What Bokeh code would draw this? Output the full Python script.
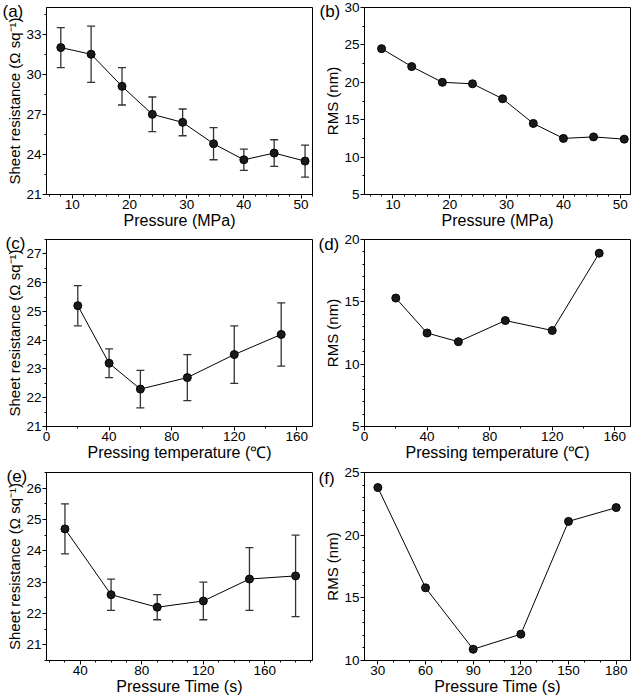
from bokeh.plotting import figure
from bokeh.models import Whisker, ColumnDataSource, Title, Range1d, TeeHead, SingleIntervalTicker
from bokeh.layouts import gridplot
from bokeh.embed import file_html
from bokeh.resources import INLINE

# (a) sheet resistance vs pressure
pressure_mpa = [8, 13.3, 18.7, 24, 29.3, 34.7, 40, 45.3, 50.7]
sheet_res_pressure = [32.0, 31.5, 29.1, 27.0, 26.4, 24.8, 23.6, 24.1, 23.5]
sheet_res_pressure_upper = [33.5, 33.6, 30.5, 28.3, 27.4, 26.0, 24.4, 25.1, 24.7]
sheet_res_pressure_lower = [30.5, 29.4, 27.7, 25.7, 25.4, 23.6, 22.8, 23.1, 22.3]
# (b) RMS vs pressure
rms_pressure = [24.5, 22.1, 20.0, 19.8, 17.8, 14.5, 12.5, 12.7, 12.4]
# (c) sheet resistance vs pressing temperature
temperature_c = [20, 40, 60, 90, 120, 150]
sheet_res_temp = [25.2, 23.2, 22.3, 22.7, 23.5, 24.2]
sheet_res_temp_upper = [25.9, 23.7, 22.95, 23.5, 24.5, 25.3]
sheet_res_temp_lower = [24.5, 22.7, 21.65, 21.9, 22.5, 23.1]
# (d) RMS vs pressing temperature
rms_temp = [15.3, 12.5, 11.8, 13.5, 12.7, 18.9]
# (e) sheet resistance vs pressure time
time_s = [30, 60, 90, 120, 150, 180]
sheet_res_time = [24.7, 22.6, 22.2, 22.4, 23.1, 23.2]
sheet_res_time_upper = [25.5, 23.1, 22.6, 23.0, 24.1, 24.5]
sheet_res_time_lower = [23.9, 22.1, 21.8, 21.8, 22.1, 21.9]
# (f) RMS vs pressure time
rms_time = [23.8, 15.8, 10.9, 12.1, 21.1, 22.2]

labels_panel = ["(a)", "(b)", "(c)", "(d)", "(e)", "(f)"]
xlabel_pressure = "Pressure (MPa)"
xlabel_temp = "Pressing temperature (\u2103)"
xlabel_time = "Pressure Time (s)"
ylabel_res = "Sheet resistance (\u03a9 sq\u207b\u00b9)"
ylabel_rms = "RMS (nm)"

FONT = "Liberation Sans"


def make_panel(x, y, upper, lower, xr, yr, xint, xminor, yint, yminor,
               xlabel, ylabel, tag, w, h, bl, br, bt, bb, lab_x, lab_bottom):
    p = figure(width=w, height=h, output_backend="svg", toolbar_location=None,
               x_range=Range1d(*xr), y_range=Range1d(*yr),
               min_border_left=bl, min_border_right=br,
               min_border_top=bt, min_border_bottom=bb)
    p.background_fill_color = "white"
    p.border_fill_color = "white"
    p.outline_line_color = "black"
    p.outline_line_width = 1
    p.xgrid.visible = False
    p.ygrid.visible = False
    p.xaxis.ticker = SingleIntervalTicker(interval=xint, num_minor_ticks=xminor)
    p.yaxis.ticker = SingleIntervalTicker(interval=yint, num_minor_ticks=yminor)
    for ax in (p.xaxis[0], p.yaxis[0]):
        ax.axis_line_color = "black"
        ax.major_tick_line_color = "black"
        ax.minor_tick_line_color = "black"
        ax.major_tick_in = 0
        ax.major_tick_out = 4
        ax.minor_tick_in = 0
        ax.minor_tick_out = 2
        ax.major_label_text_font = FONT
        ax.major_label_text_font_size = "13.5px"
        ax.major_label_text_color = "black"
        ax.axis_label_text_font = FONT
        ax.axis_label_text_font_style = "normal"
        ax.axis_label_text_color = "black"
        ax.major_label_standoff = 1
        ax.axis_label_standoff = 0
    p.xaxis.axis_label = xlabel
    p.yaxis.axis_label = ylabel
    p.xaxis.axis_label_text_font_size = "16px"
    p.yaxis.axis_label_text_font_size = "15px"

    src = ColumnDataSource(dict(x=x, y=y))
    if upper is not None:
        esrc = ColumnDataSource(dict(base=x, upper=upper, lower=lower))
        wk = Whisker(source=esrc, base="base", upper="upper", lower="lower",
                     line_color="#333333", line_width=1.3,
                     upper_head=TeeHead(size=8, line_color="#333333", line_width=1.3),
                     lower_head=TeeHead(size=8, line_color="#333333", line_width=1.3))
        p.add_layout(wk)
    p.line("x", "y", source=src, line_color="black", line_width=1)
    p.scatter("x", "y", source=src, size=8, fill_color="#1a1a1a", line_color="black",
              line_width=1)

    # panel tag: a zero-height title in the top panel, pushed down beside the frame's top corner
    p.add_layout(Title(text=tag, align="left", vertical_align="bottom", offset=lab_x - bl,
                       standoff=-2 * (lab_bottom - bt), text_font=FONT, text_font_size="17px",
                       text_font_style="normal", text_color="black"), "above")
    return p


pa = make_panel(pressure_mpa, sheet_res_pressure, sheet_res_pressure_upper, sheet_res_pressure_lower,
                (5.5, 52), (21, 35), 10, 5, 3, 2, xlabel_pressure, ylabel_res, labels_panel[0],
                317, 233, 46, 5, 5, 39, 2, 18)
pb = make_panel(pressure_mpa, rms_pressure, None, None,
                (5, 51.8), (5, 30), 10, 5, 5, 2, xlabel_pressure, ylabel_rms, labels_panel[1],
                318, 233, 46, 5, 7, 37, 1, 20)
pc = make_panel(temperature_c, sheet_res_temp, sheet_res_temp_upper, sheet_res_temp_lower,
                (0, 170), (21, 27.5), 40, 2, 1, 2, xlabel_temp, ylabel_res, labels_panel[2],
                317, 233, 43, 5, 5, 40, 2, 18)
pd = make_panel(temperature_c, rms_temp, None, None,
                (0, 170), (5, 20), 40, 2, 5, 5, xlabel_temp, ylabel_rms, labels_panel[3],
                318, 233, 47, 3, 6, 39, 1, 20)
pe = make_panel(time_s, sheet_res_time, sheet_res_time_upper, sheet_res_time_lower,
                (18, 191), (20.5, 26.5), 40, 4, 1, 2, xlabel_time, ylabel_res, labels_panel[4],
                317, 231, 42, 5, 6, 36, 2, 19)
pf = make_panel(time_s, rms_time, None, None,
                (21.6, 189), (10, 25), 30, 3, 5, 5, xlabel_time, ylabel_rms, labels_panel[5],
                318, 231, 47, 4, 6, 36, 1, 21)

grid = gridplot([[pa, pb], [pc, pd], [pe, pf]], toolbar_location=None)

open("out.html", "w").write(file_html(grid, INLINE))
